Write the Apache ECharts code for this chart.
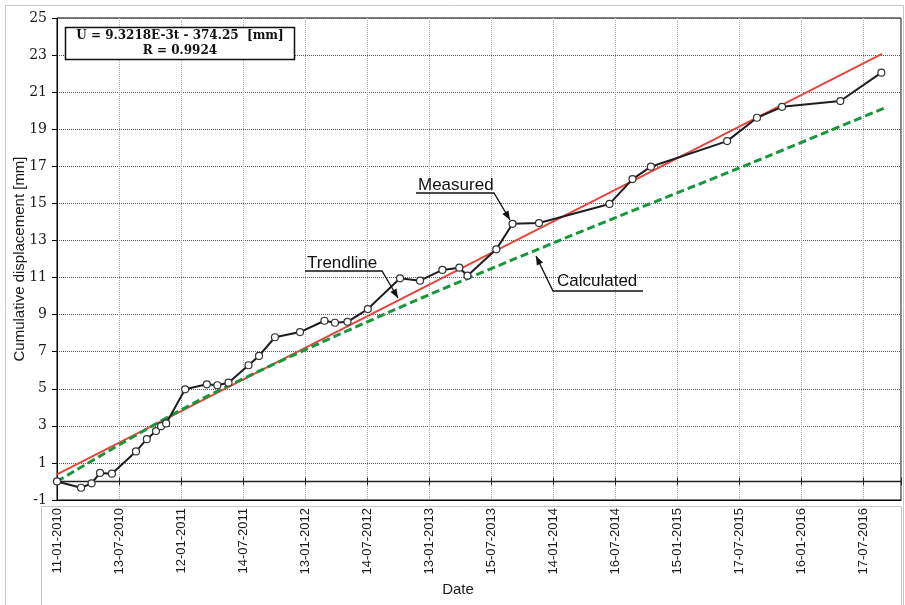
<!DOCTYPE html>
<html>
<head>
<meta charset="utf-8">
<script src="https://cdn.jsdelivr.net/npm/echarts@6/dist/echarts.min.js"></script>
<style>html,body{margin:0;padding:0;background:#fff}#c{width:905px;height:605px}</style>
</head>
<body>
<div id="c"></div>
<script>
// ---- data ----
const startDate = '2010-01-11';
const tickStepDays = 183;
const tickLabels = ['11-01-2010','13-07-2010','12-01-2011','14-07-2011','13-01-2012','14-07-2012',
  '13-01-2013','15-07-2013','14-01-2014','16-07-2014','15-01-2015','17-07-2015','16-01-2016','17-07-2016'];
const endDate = '2016-11-05';

const measuredDates = ['2010-01-11','2010-03-23','2010-04-23','2010-05-18','2010-06-22','2010-09-01',
  '2010-10-03','2010-10-30','2010-11-14','2010-11-29','2011-01-24','2011-03-29','2011-04-29','2011-06-01',
  '2011-07-30','2011-08-30','2011-10-16','2011-12-29','2012-03-10','2012-04-10','2012-05-17','2012-07-16',
  '2012-10-19','2012-12-17','2013-02-21','2013-04-12','2013-05-06','2013-07-30','2013-09-16','2013-12-03',
  '2014-06-29','2014-09-05','2014-10-29','2015-06-11','2015-09-07','2015-11-20','2016-05-10','2016-09-08'];
const measuredValues = [0.00,-0.34,-0.10,0.46,0.42,1.62,
  2.28,2.72,2.98,3.13,4.97,5.24,5.19,5.33,
  6.27,6.77,7.78,8.06,8.67,8.56,8.61,9.30,
  10.96,10.83,11.41,11.53,11.10,12.52,13.90,13.94,
  14.97,16.31,16.98,18.36,19.62,20.21,20.52,22.05];

const trendDates = ['2010-01-11','2016-09-10'];
const trendValues = [0.38, 23.07];

const calcDates = ['2010-01-11','2011-03-09','2012-09-20','2014-02-04','2015-08-19','2016-09-15'];
const calcValues = [0.00, 4.40, 9.16, 13.02, 17.16, 20.13];

const equationLines = ['U = 9.3218E-3t - 374.25  [mm]', 'R = 0.9924'];

// ---- helpers ----
const DAY = 86400000;
function dayOf(s){ return Math.round((Date.parse(s) - Date.parse(startDate)) / DAY); }
function pairs(dates, vals){ return dates.map((d,i)=>[dayOf(d), vals[i]]); }
function arrowHead(x1,y1,x2,y2,len,w){
  const dx=x2-x1, dy=y2-y1, L=Math.hypot(dx,dy), ux=dx/L, uy=dy/L;
  const bx=x2-ux*len, by=y2-uy*len, px=-uy*w, py=ux*w;
  return [[x2,y2],[bx+px,by+py],[bx-px,by-py]];
}
function annotation(text, tx, ty, path){
  const n = path.length;
  const a = path[n-2], b = path[n-1];
  return [
    {type:'text', x:tx, y:ty, z:50, style:{text:text, fill:'#111', fontSize:17, fontFamily:'Liberation Sans, Arial', align:'left', verticalAlign:'middle'}},
    {type:'polyline', z:50, shape:{points:path}, style:{stroke:'#111', lineWidth:1.3, fill:null}},
    {type:'polygon', z:50, shape:{points:arrowHead(a[0],a[1],b[0],b[1],9,3.5)}, style:{fill:'#111'}}
  ];
}

const maxDay = dayOf(endDate);
function xLabel(v){
  const i = Math.round(v / tickStepDays);
  if (Math.abs(v - i*tickStepDays) > 0.5) return '';
  return tickLabels[i] || '';
}

const xCommon = {type:'value', min:0, max:maxDay, interval:tickStepDays, gridIndex:0};

const chart = echarts.init(document.getElementById('c'), null, {renderer:'canvas'});
chart.setOption({
  animation:false,
  backgroundColor:'#fff',
  grid:{left:57, right:4, top:18, bottom:105, show:true, borderColor:'#000', borderWidth:1, backgroundColor:'transparent'},
  xAxis:[
    Object.assign({}, xCommon, {
      position:'bottom',
      axisLine:{show:true, onZero:false, lineStyle:{color:'#000', width:1}},
      axisTick:{show:false},
      axisLabel:{rotate:90, margin:8, fontSize:13, color:'#1a1a1a', fontFamily:'Liberation Sans, Arial', formatter:xLabel, showMaxLabel:false, showMinLabel:true},
      splitLine:{show:true, lineStyle:{type:'dotted', color:'#a8a8a8', width:1}},
      name:'Date', nameLocation:'middle', nameGap:80,
      nameTextStyle:{fontSize:15, color:'#1a1a1a', fontFamily:'Liberation Sans, Arial', padding:[0,42,0,0]}
    }),
    Object.assign({}, xCommon, {
      position:'bottom',
      axisLine:{show:true, onZero:true, onZeroAxisIndex:0, lineStyle:{color:'#222', width:1.4}},
      axisTick:{show:true, length:4, lineStyle:{color:'#222'}},
      axisLabel:{show:false}, splitLine:{show:false}
    }),
    Object.assign({}, xCommon, {
      position:'top',
      axisLine:{show:false, onZero:true, onZeroAxisIndex:0},
      axisTick:{show:true, length:4, lineStyle:{color:'#222'}},
      axisLabel:{show:false}, splitLine:{show:false}
    })
  ],
  yAxis:{
    type:'value', min:-1, max:25, interval:2,
    axisLine:{show:true, onZero:false, lineStyle:{color:'#000'}},
    axisTick:{show:true, length:5, lineStyle:{color:'#000'}},
    axisLabel:{fontFamily:'DejaVu Serif', fontSize:14, color:'#1a1a1a', margin:10},
    splitLine:{show:true, lineStyle:{type:'dotted', color:'#555', width:1}},
    name:'Cumulative displacement [mm]', nameLocation:'middle', nameGap:30, nameMoveOverlap:false,
    nameTextStyle:{fontSize:15, color:'#1a1a1a', fontFamily:'Liberation Sans, Arial'}
  },
  series:[
    {name:'Trendline', type:'line', xAxisIndex:0, data:pairs(trendDates, trendValues), symbol:'none',
     lineStyle:{color:'#e8453c', width:2}, z:2},
    {name:'Calculated', type:'line', xAxisIndex:0, data:pairs(calcDates, calcValues), symbol:'none', smooth:0.3,
     lineStyle:{color:'#18973c', width:3, type:[8,4]}, z:3},
    {name:'Measured', type:'line', xAxisIndex:0, data:pairs(measuredDates, measuredValues),
     symbol:'circle', symbolSize:7, showAllSymbol:true,
     lineStyle:{color:'#1e1e1e', width:2},
     itemStyle:{color:'#fff', borderColor:'#333', borderWidth:1.2}, z:4}
  ],
  graphic:[
    {type:'rect', z:-1, silent:true, shape:{x:5.5, y:5.5, width:898, height:610}, style:{fill:null, stroke:'#c8c8c8', lineWidth:1}},
    {type:'rect', z:-1, silent:true, shape:{x:41.5, y:506.5, width:860, height:110}, style:{fill:null, stroke:'#c8c8c8', lineWidth:1}},
    {type:'rect', z:60, shape:{x:65.5, y:27.5, width:229, height:32}, style:{fill:'#fff', stroke:'#111', lineWidth:1.5}},
    {type:'text', z:61, x:180, y:36, style:{text:equationLines[0], fill:'#111', fontSize:12, fontWeight:'bold', fontFamily:'DejaVu Serif', align:'center', verticalAlign:'middle'}},
    {type:'text', z:61, x:180, y:51, style:{text:equationLines[1], fill:'#111', fontSize:12, fontWeight:'bold', fontFamily:'DejaVu Serif', align:'center', verticalAlign:'middle'}}
  ]
  .concat(annotation('Measured', 418, 185, [[416,193],[494,193],[510,220]]))
  .concat(annotation('Trendline', 307, 263, [[305,271],[382,271],[398,298]]))
  .concat(annotation('Calculated', 557, 281, [[643,291],[553,291],[536,256]]))
});
</script>
</body>
</html>
